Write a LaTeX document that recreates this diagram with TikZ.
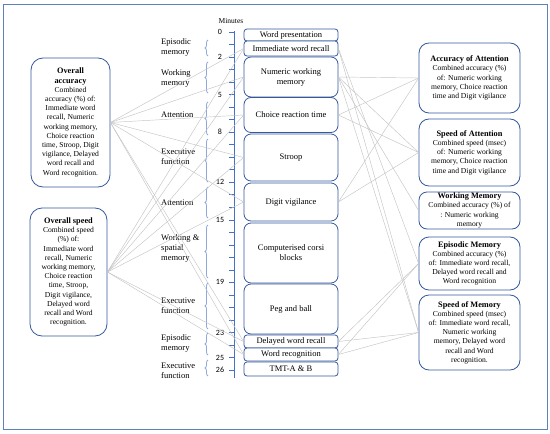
\documentclass[tikz,border=0pt]{standalone}
\usepackage{fontspec}
\setmainfont{Liberation Serif}
\newfontfamily\numfont{Carlito}
\usetikzlibrary{decorations.pathreplacing}
\definecolor{boxblue}{RGB}{52,88,158}
\definecolor{axisblue}{RGB}{68,114,196}
\definecolor{braceblue}{RGB}{140,168,220}
\definecolor{framecol}{RGB}{96,128,186}
\definecolor{linkgray}{RGB}{196,196,196}

\begin{document}
\begin{tikzpicture}[x=1pt,y=-1pt]
  \tikzset{test/.style = {draw=boxblue,line width=0.8pt,fill=white,rounded corners=3pt,minimum width=94pt,inner sep=0pt,align=center,font=\fontsize{8.5}{10}\selectfont}}
  \tikzset{score/.style = {draw=boxblue,line width=0.8pt,fill=white,rounded corners=10pt,inner sep=0pt,align=center,font=\fontsize{7.6}{9.2}\selectfont}}
  \tikzset{area/.style = {anchor=west,align=left,inner sep=0pt,font=\fontsize{8.5}{10}\selectfont}}
  \tikzset{span/.style = {draw=braceblue,line width=0.8pt,decorate,decoration={brace,amplitude=3pt}}}
  \tikzset{link/.style = {draw=linkgray,line width=0.45pt}}
  \newcommand{\hd}[1]{{\fontsize{8.3}{9.2}\selectfont\bfseries #1}}
	\useasboundingbox (0,0) rectangle (550,434);
	\draw[framecol,line width=0.8pt] (3,4) rectangle (547,429);

	% time axis
	\node[font=\fontsize{7.5}{8}\selectfont] (min) at (231,21) {Minutes};
	\draw[axisblue,line width=1pt] (234,31) -- (234,378);
	\foreach \k in {0,...,27}
		\draw[axisblue,line width=0.6pt] (229,{32+12.52*\k}) -- (234,{32+12.52*\k});
	\foreach \k/\m in {0/0,2/2,5/5,8/8,12/12,15/15,20/19,24/23,26/25,27/26}
		\node[font=\numfont\fontsize{8}{9}\selectfont,inner sep=0pt] (t\k) at (220,{32+12.52*\k}) {\m};

	% domains
	\foreach \t/\b in {40/56,62/93,102/135,139/182,187/218,225/278,283/329,333/355,360/376}
		\draw[span] (208,\b) -- (208,\t);
	\node[area] (d1) at (161,47.5) {Episodic\\memory};
	\node[area] (d2) at (161,78) {Working\\memory};
	\node[area] (d3) at (161,115) {Attention};
	\node[area] (d4) at (161,157) {Executive\\function};
	\node[area] (d5) at (161,203) {Attention};
	\node[area] (d6) at (161,248) {Working \&\\spatial\\memory};
	\node[area] (d7) at (161,306) {Executive\\function};
	\node[area] (d8) at (161,343.5) {Episodic\\memory};
	\node[area] (d9) at (161,371) {Executive\\function};

	% tests
	\node[test,minimum height=12pt] (wp) at (291,35) {Word presentation};
	\node[test,minimum height=15pt] (iwr) at (291,48.5) {Immediate word recall};
	\node[test,minimum height=40pt,rounded corners=7pt] (nwm) at (291,77) {Numeric working\\memory};
	\node[test,minimum height=35pt,rounded corners=7pt] (crt) at (291,115) {Choice reaction time};
	\node[test,minimum height=47pt,rounded corners=7pt] (str) at (291,157.5) {Stroop};
	\node[test,minimum height=38pt,rounded corners=7pt] (dv) at (291,202) {Digit vigilance};
	\node[test,minimum height=60pt,rounded corners=7pt] (ccb) at (291,253) {Computerised corsi\\blocks};
	\node[test,minimum height=50pt,rounded corners=7pt] (pb) at (291,309) {Peg and ball};
	\node[test,minimum height=13pt] (dwr) at (291,341.5) {Delayed word recall};
	\node[test,minimum height=13pt] (wr) at (291,354.5) {Word recognition};
	\node[test,minimum height=14pt] (tmt) at (291,369) {TMT-A \& B};

	% composite scores
	\node[score,minimum width=79pt,minimum height=129pt,rounded corners=12pt] (oacc) at (70.5,122.5)
		{\hd{Overall}\\\hd{accuracy}\\Combined\\accuracy (\%) of:\\Immediate word\\recall, Numeric\\working memory,\\Choice reaction\\time, Stroop, Digit\\vigilance, Delayed\\word recall and\\Word recognition.};
	\node[score,minimum width=77pt,minimum height=128pt,rounded corners=12pt] (ospd) at (68.5,272)
		{\hd{Overall speed}\\Combined speed\\(\%) of:\\Immediate word\\recall, Numeric\\working memory,\\Choice reaction\\time, Stroop,\\Digit vigilance,\\Delayed word\\recall and Word\\recognition.};
	\node[score,minimum width=101pt,minimum height=70pt] (aatt) at (469.5,78)
		{\hd{Accuracy of Attention}\\Combined accuracy (\%)\\of: Numeric working\\memory, Choice reaction\\time and Digit vigilance};
	\node[score,minimum width=101pt,minimum height=67pt] (satt) at (469.5,152.5)
		{\hd{Speed of Attention}\\Combined speed (msec)\\of: Numeric working\\memory, Choice reaction\\time and Digit vigilance};
	\node[score,minimum width=101pt,minimum height=37pt,rounded corners=8pt] (wmem) at (469.5,210.5)
		{\hd{Working Memory}\\Combined accuracy (\%) of\\: Numeric working\\memory};
	\node[score,minimum width=101pt,minimum height=53pt] (emem) at (469.5,263.5)
		{\hd{Episodic Memory}\\Combined accuracy (\%)\\of: Immediate word recall,\\Delayed word recall and\\Word recognition};
	\node[score,minimum width=101pt,minimum height=75pt] (smem) at (469.5,332.5)
		{\hd{Speed of Memory}\\Combined speed (msec)\\of: Immediate word recall,\\Numeric working\\memory, Delayed word\\recall and Word\\recognition.};

	% links
	\foreach \t in {iwr,nwm,crt,str,dv,dwr,wr}{
		\path[link] (oacc.east) edge (\t.west);
		\path[link] (ospd.east) edge (\t.west);
	}
	\foreach \s/\t in {nwm/aatt,crt/aatt,dv/aatt,nwm/satt,crt/satt,dv/satt,nwm/wmem,iwr/emem,dwr/emem,wr/emem,iwr/smem,nwm/smem,dwr/smem,wr/smem}
		\path[link] (\s.east) edge (\t.west);
\end{tikzpicture}
\end{document}
